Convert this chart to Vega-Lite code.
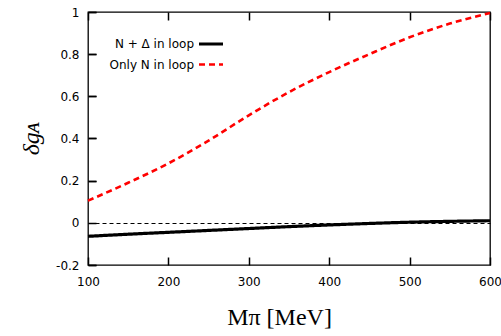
{
  "$schema": "https://vega.github.io/schema/vega-lite/v6.json",
  "width": 402,
  "height": 253,
  "autosize": {"type": "none"},
  "padding": {"left": 88, "top": 12, "right": 11, "bottom": 71},
  "config": {
    "view": {"stroke": "black", "strokeWidth": 1.3},
    "font": "DejaVu Sans"
  },
  "data": {
    "values": [
      {"M": 100, "dg": -0.064, "series": "N + Δ in loop"},
      {"M": 150, "dg": -0.054, "series": "N + Δ in loop"},
      {"M": 200, "dg": -0.045, "series": "N + Δ in loop"},
      {"M": 250, "dg": -0.036, "series": "N + Δ in loop"},
      {"M": 300, "dg": -0.027, "series": "N + Δ in loop"},
      {"M": 350, "dg": -0.018, "series": "N + Δ in loop"},
      {"M": 400, "dg": -0.01, "series": "N + Δ in loop"},
      {"M": 450, "dg": -0.003, "series": "N + Δ in loop"},
      {"M": 500, "dg": 0.003, "series": "N + Δ in loop"},
      {"M": 550, "dg": 0.007, "series": "N + Δ in loop"},
      {"M": 600, "dg": 0.01, "series": "N + Δ in loop"},
      {"M": 100, "dg": 0.105, "series": "Only N in loop"},
      {"M": 150, "dg": 0.19, "series": "Only N in loop"},
      {"M": 200, "dg": 0.282, "series": "Only N in loop"},
      {"M": 250, "dg": 0.39, "series": "Only N in loop"},
      {"M": 300, "dg": 0.51, "series": "Only N in loop"},
      {"M": 350, "dg": 0.62, "series": "Only N in loop"},
      {"M": 400, "dg": 0.715, "series": "Only N in loop"},
      {"M": 450, "dg": 0.8, "series": "Only N in loop"},
      {"M": 500, "dg": 0.88, "series": "Only N in loop"},
      {"M": 550, "dg": 0.945, "series": "Only N in loop"},
      {"M": 600, "dg": 0.995, "series": "Only N in loop"}
    ]
  },
  "mark": {"type": "line", "interpolate": "monotone"},
  "encoding": {
    "x": {
      "field": "M", "type": "quantitative",
      "scale": {"domain": [100, 600], "nice": false, "zero": false},
      "axis": {"orient": "bottom", "tickCount": 5, "domain": false,
               "tickColor": "black", "tickWidth": 1.5, "tickSize": 8, "offset": -8,
               "grid": true, "gridColor": "black", "gridWidth": 1.5, "gridDash": [8, 245],
               "labelPadding": 11, "labelFlush": false, "labelFont": "DejaVu Sans", "labelFontSize": 12, "labelColor": "black",
               "title": "Mπ  [MeV]", "titleFont": "Liberation Serif", "titleFontSize": 24,
               "titleFontWeight": "normal", "titleColor": "black", "titlePadding": 18,
               "titleX": 191, "titleAlign": "center"}
    },
    "y": {
      "field": "dg", "type": "quantitative",
      "scale": {"domain": [-0.2, 1], "nice": false, "zero": false},
      "axis": {"orient": "left", "tickCount": 6, "domain": false,
               "tickColor": "black", "tickWidth": 1.5, "tickSize": -8,
               "grid": true, "gridColor": "black",
               "gridWidth": {"condition": {"test": "datum.value === 0", "value": 1}, "value": 1.5},
               "gridDash": {"condition": {"test": "datum.value === 0", "value": [4, 3]}, "value": [8, 394]},
               "labelPadding": 17, "labelFlush": false, "labelFont": "DejaVu Sans", "labelFontSize": 12, "labelColor": "black",
               "labelExpr": "replace(format(datum.value, '~g'), '−', '-')",
               "title": "δgᴀ", "titleFont": "Liberation Serif", "titleFontSize": 24,
               "titleFontStyle": "italic", "titleFontWeight": "normal", "titleColor": "black", "titlePadding": 12}
    },
    "color": {
      "field": "series", "type": "nominal",
      "scale": {"domain": ["N + Δ in loop", "Only N in loop"], "range": ["#000000", "#ff0000"]},
      "legend": {
        "title": null, "orient": "none", "legendX": 109, "legendY": 18,
        "symbolType": "stroke", "symbolSize": 576, "symbolStrokeWidth": 3,
        "labelAlign": "right", "labelOffset": -31, "labelFontSize": 12, "labelFont": "DejaVu Sans",
        "labelColor": "black", "rowPadding": -6
      }
    },
    "strokeDash": {
      "field": "series", "type": "nominal",
      "scale": {"domain": ["N + Δ in loop", "Only N in loop"], "range": [[1, 0], [6, 4]]},
      "legend": {
        "title": null, "orient": "none", "legendX": 109, "legendY": 18,
        "symbolType": "stroke", "symbolSize": 576, "symbolStrokeWidth": 3,
        "labelAlign": "right", "labelOffset": -31, "labelFontSize": 12, "labelFont": "DejaVu Sans",
        "labelColor": "black", "rowPadding": -6
      }
    },
    "strokeWidth": {
      "field": "series", "type": "nominal",
      "scale": {"domain": ["N + Δ in loop", "Only N in loop"], "range": [3.2, 2.6]},
      "legend": null
    }
  }
}
